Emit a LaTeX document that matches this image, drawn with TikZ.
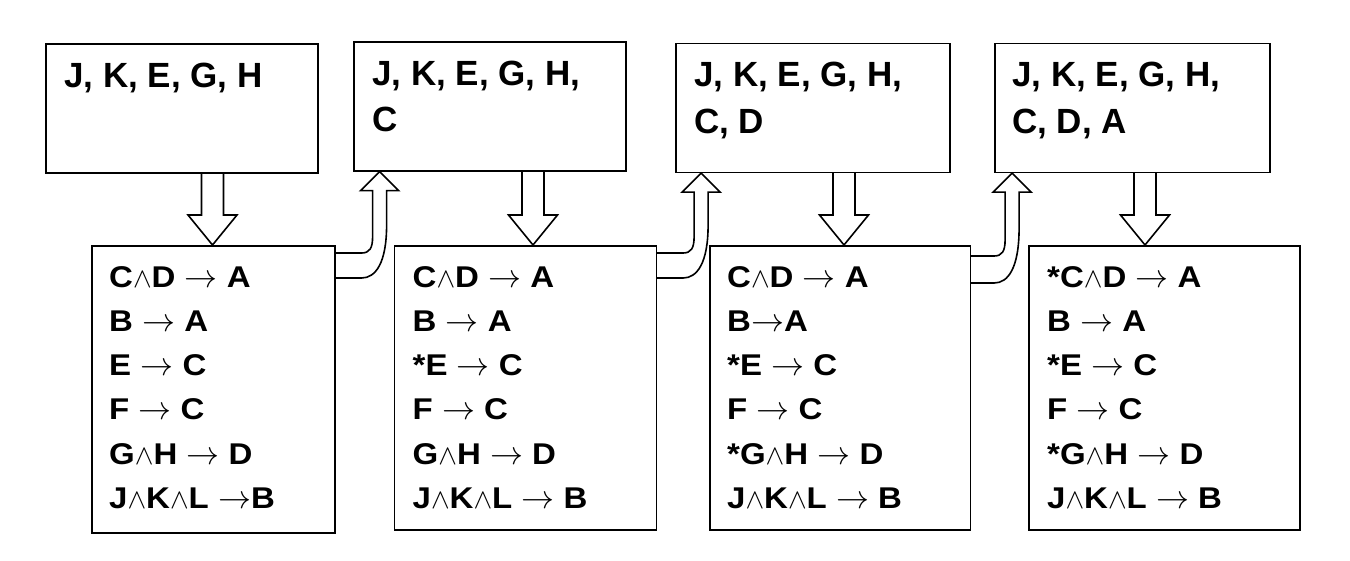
\RequirePackage{fix-cm}
\documentclass[tikz,border=0pt]{standalone}
\usepackage{fontspec}
\setmainfont{Liberation Sans}
\newfontfamily\rulefont[FakeStretch=1.1]{Liberation Sans}
\usetikzlibrary{calc}
\newcommand\myand{{\fontsize{28}{28}\selectfont$\wedge$}}
\newcommand\myto{{\fontsize{33}{33}\selectfont$\rightarrow$}}
\newcommand\downarr[3]{%
  \coordinate (dx) at (#3,0);
  \draw[blockarrow] ($(dx |- #1.south)+(-11,0)$) -- ($(dx |- #2.north)+(-11,-30)$) -- ++(-13.5,0)
    -- (dx |- #2.north) -- ($(dx |- #2.north)+(24.5,-30)$) -- ++(-13.5,0) -- ($(dx |- #1.south)+(11,0)$);
}
\newcommand\bentarr[5]{%
  \coordinate (bc) at ($(#1.north east)+(#3,0)$);
  \coordinate (bt) at (bc |- #2.south);
  \draw[blockarrow] ($(#1.north east)+(0,#4)$) -- ($(bc)+(-18,#4)$)
    .. controls ($(bc)+(-10,#4)$) and ($(bc)+(-7,#4-5)$) .. ($(bc)+(-7,#4-16)$)
    -- ($(bt)+(-7,19)$) -- ($(bt)+(-19,19)$) -- (bt) -- ($(bt)+(19,19)$) -- ($(bt)+(7,19)$)
    -- ($(bc)+(7,#4-28)$)
    .. controls ($(bc)+(7,#5-15)$) and ($(bc)+(-4,#5)$) .. ($(bc)+(-18,#5)$)
    -- ($(#1.north east)+(0,#5)$);
}
\begin{document}
\begin{tikzpicture}[x=1pt,y=-1pt,
  box/.style={draw, line width=1.6pt, inner sep=0pt, anchor=north west},
  toptext/.style={anchor=base west, align=left, inner sep=0pt, font=\fontsize{35}{46.5}\selectfont\bfseries},
  ruletext/.style={anchor=base west, align=left, inner sep=0pt, font=\rulefont\fontsize{30}{44.3}\selectfont\bfseries},
  blockarrow/.style={draw, line width=1.6pt, line join=miter}]
\useasboundingbox (0,0) rectangle (1350,560);
% top boxes
\node[box, minimum width=272pt, minimum height=129pt] (t1) at (45,43) {};
\node[box, minimum width=272pt, minimum height=129pt] (t2) at (353,41) {};
\node[box, minimum width=274pt, minimum height=129pt] (t3) at (675,42.5) {};
\node[box, minimum width=275pt, minimum height=129pt] (t4) at (994,42.5) {};
% bottom boxes
\node[box, minimum width=243pt, minimum height=287pt] (b1) at (91,245) {};
\node[box, minimum width=262pt, minimum height=284pt] (b2) at (393.5,245) {};
\node[box, minimum width=260.5pt, minimum height=284pt] (b3) at (709,245) {};
\node[box, minimum width=271pt, minimum height=284pt] (b4) at (1028,245) {};
% top texts (base anchor = last line's baseline)
\node[toptext] (t1x) at ($(t1.north west)+(19,44)$) {J, K, E, G, H};
\node[toptext] (t2x) at ($(t2.north west)+(19,90.5)$) {J, K, E, G, H,\\C};
\node[toptext] (t3x) at ($(t3.north west)+(19,90.5)$) {J, K, E, G, H,\\C, D};
\node[toptext] (t4x) at ($(t4.north west)+(18,90.5)$) {J, K, E, G, H,\\C, D, A};
% rule texts
\node[ruletext] (b1x) at ($(b1.north west)+(18,263.5)$) {C\myand D \myto{} A\\B \myto{} A\\E \myto{} C\\F \myto{} C\\G\myand H \myto{} D\\J\myand K\myand L \myto B};
\node[ruletext] (b2x) at ($(b2.north west)+(19,263.5)$) {C\myand D \myto{} A\\B \myto{} A\\*E \myto{} C\\F \myto{} C\\G\myand H \myto{} D\\J\myand K\myand L \myto{} B};
\node[ruletext] (b3x) at ($(b3.north west)+(18,263.5)$) {C\myand D \myto{} A\\B\myto A\\*E \myto{} C\\F \myto{} C\\*G\myand H \myto{} D\\J\myand K\myand L \myto{} B};
\node[ruletext] (b4x) at ($(b4.north west)+(19,263.5)$) {*C\myand D \myto{} A\\B \myto{} A\\*E \myto{} C\\F \myto{} C\\*G\myand H \myto{} D\\J\myand K\myand L \myto{} B};
% down arrows
\downarr{t1}{b1}{212.5}
\downarr{t2}{b2}{533}
\downarr{t3}{b3}{844}
\downarr{t4}{b4}{1145}
% bent arrows
\bentarr{b1}{t2}{44}{8}{33}
\bentarr{b2}{t3}{44}{8}{33}
\bentarr{b3}{t4}{41}{11}{38}
\end{tikzpicture}
\end{document}
